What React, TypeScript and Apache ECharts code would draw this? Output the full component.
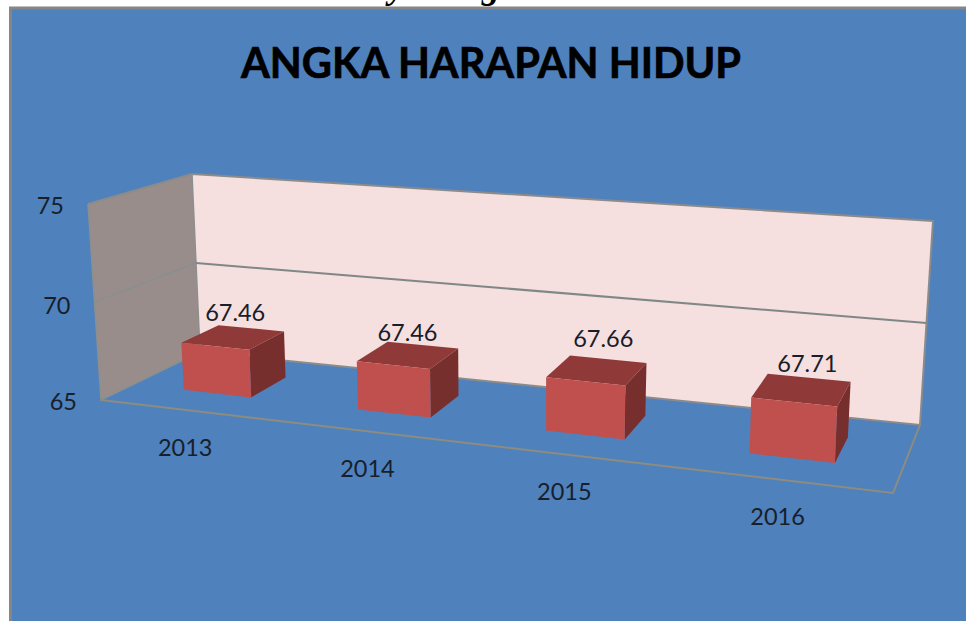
import React, { useEffect, useRef } from "react";
import * as echarts from "echarts";

const categories = ["2013", "2014", "2015", "2016"];
const values = [67.46, 67.46, 67.66, 67.71];
const valueTicks = [65, 70, 75];
const titleText = "ANGKA HARAPAN HIDUP";

// Hidden plot rectangle: scales are read from it, then projected to the perspective box.
const GRID = { left: 100, top: 100, width: 800, height: 400 };
// Box corners: front/back, left/right, floor/top
const A = [101, 400], B = [893, 493], C = [920, 425], D = [200, 352];
const At = [88, 204], Bt = [902, 280], Ct = [933, 221], Dt = [192, 174];
const PERSPECTIVE = 1.17;
const BAR_W = 0.099, BAR_FRONT = 0.33, BAR_BACK = 0.72;
const LABEL_FIX = [[-1.5, 2], [-4, 4], [3, -5], [2.5, 0]];

const lerp = (a: number[], b: number[], k: number) => [a[0] + (b[0] - a[0]) * k, a[1] + (b[1] - a[1]) * k];
const warp = (u: number) => u / (u + PERSPECTIVE * (1 - u));
function project(u: number, w: number, h: number) {
  const t = warp(u);
  const floor = lerp(lerp(A, B, t), lerp(D, C, t), w);
  const top = lerp(lerp(At, Bt, t), lerp(Dt, Ct, t), w);
  return lerp(floor, top, h);
}
const norm = (api: any, params: any, cat: number, val: number) => {
  const p = api.coord([cat, val]);
  const cs = params.coordSys;
  return { u: (p[0] - cs.x) / cs.width, h: (cs.y + cs.height - p[1]) / cs.height };
};
const FONT = "Lato, sans-serif";
const poly = (points: number[][], fill: string, stroke?: string, lineWidth = 0) => ({
  type: "polygon",
  shape: { points },
  style: { fill, stroke: stroke || "none", lineWidth },
});
const line = (points: number[][], stroke: string, lineWidth: number) => ({
  type: "polyline",
  shape: { points },
  style: { fill: "none", stroke, lineWidth },
});
const label = (text: string, x: number, y: number, fontSize = 23.5, align = "center") => ({
  type: "text",
  style: { text, x, y, align, verticalAlign: "middle", font: `${fontSize}px ${FONT}`, fill: "#17202a" },
});

export default function App() {
  const ref = useRef<HTMLDivElement>(null);
  useEffect(() => {
    document.body.style.margin = "0";
    const chart = echarts.init(ref.current!, undefined, { renderer: "svg" });
    chart.setOption({
      animation: false,
      backgroundColor: "#ffffff",
      title: {
        text: titleText,
        left: 486,
        top: 36,
        textAlign: "center",
        textStyle: { fontFamily: FONT, fontWeight: "bold", fontSize: 41.5, color: "#000000", textBorderColor: "#000000", textBorderWidth: 0.7 },
      },
      graphic: [
        { type: "rect", z: -10, shape: { x: 10.5, y: 8, width: 970, height: 630 }, style: { fill: "#4F81BD", stroke: "#868686", lineWidth: 3 } },
        { type: "text", z: -9, style: { text: "y", x: 397, y: -32, align: "center", verticalAlign: "top", font: "italic bold 36px 'Liberation Serif', serif", fill: "#000" } },
        { type: "text", z: -9, style: { text: "g", x: 491, y: -32, align: "center", verticalAlign: "top", font: "italic bold 36px 'Liberation Serif', serif", fill: "#000" } },
      ],
      grid: { ...GRID },
      xAxis: { type: "category", data: categories, show: false },
      yAxis: { type: "value", min: 65, max: 75, interval: 5, show: false },
      tooltip: { show: false },
      series: [
        {
          type: "custom",
          name: "walls",
          silent: true,
          z: 1,
          clip: false,
          data: valueTicks.map((v) => [0, v]),
          encode: { x: 0, y: 1 },
          renderItem: (params: any, api: any) => {
            const { h } = norm(api, params, 0, api.value(1));
            const children: any[] = [];
            if (params.dataIndex === 0) {
              children.push(poly([D, Dt, Ct, C], "#F5DFDF"));
              children.push(poly([A, At, Dt, D], "#998D8B"));
              children.push(line([At, Dt, Ct, C, D], "#8b8b8b", 2));
              children.push(line([Dt, D], "#8f8f8f", 1.5));
              children.push(line([At, A, D], "#8a9090", 1.5));
              children.push(line([A, B, C], "#8e8c7e", 2));
            }
            if (h > 0 && h < 1) {
              children.push(line([project(0, 0, h), project(0, 1, h)], "#87908f", 1.5));
              children.push(line([project(0, 1, h), project(1, 1, h)], "#7f8787", 2));
            }
            const p = project(0, 0, h);
            children.push(label(String(api.value(1)), p[0] - 24, p[1] + 1 + (h > 0 && h < 1 ? 2 : 0), 23.5, "right"));
            return { type: "group", children };
          },
        },
        {
          type: "custom",
          name: "AHH",
          silent: true,
          z: 2,
          clip: false,
          data: values.map((v, i) => [i, v]),
          encode: { x: 0, y: 1 },
          renderItem: (params: any, api: any) => {
            const i = api.value(0);
            const { u, h } = norm(api, params, i, api.value(1));
            const l = u - BAR_W / 2, r = u + BAR_W / 2;
            const f = BAR_FRONT, b = BAR_BACK;
            const fl0 = project(l, f, 0), fr0 = project(r, f, 0), br0 = project(r, b, 0);
            const fl1 = project(l, f, h), fr1 = project(r, f, h), br1 = project(r, b, h), bl1 = project(l, b, h);
            const cx = (fl1[0] + br1[0]) / 2, cy = (fl1[1] + br1[1]) / 2;
            const axis = project(u, 0, 0);
            return {
              type: "group",
              children: [
                poly([fl1, fr1, br1, bl1], "#8F3A38"),
                poly([fr0, br0, br1, fr1], "#772F2D"),
                poly([fl0, fr0, fr1, fl1], "#C0504D"),
                label(api.value(1).toFixed(2), cx + 4 + LABEL_FIX[i][0], cy - 27 + LABEL_FIX[i][1]),
                label(categories[i], axis[0] - 2, axis[1] + 36.5),
              ],
            };
          },
        },
      ],
    });
    return () => chart.dispose();
  }, []);
  return <div ref={ref} style={{ position: "absolute", left: 0, top: 0, width: 966, height: 621, overflow: "hidden" }} />;
}
